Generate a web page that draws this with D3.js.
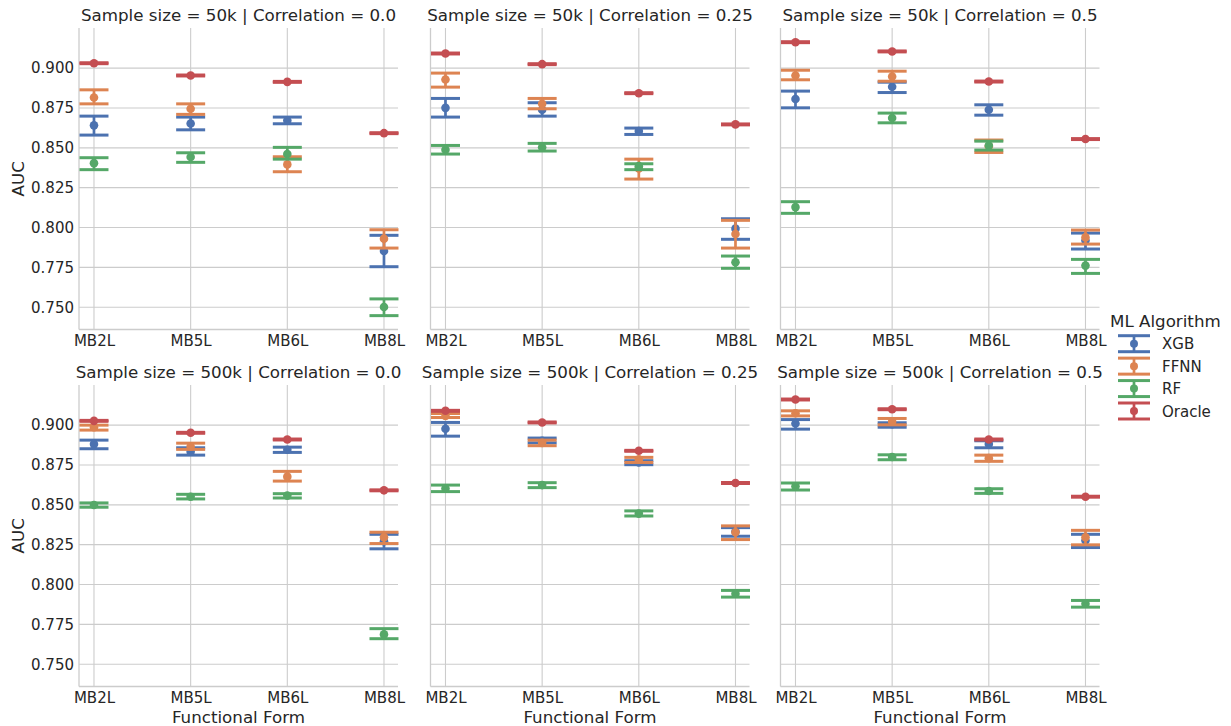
<!DOCTYPE html>
<html>
<head>
<meta charset="utf-8">
<script src="https://cdn.jsdelivr.net/npm/d3@7"></script>
<style>
  html, body { margin: 0; padding: 0; background: #ffffff; }
  svg { display: block; font-family: "DejaVu Sans", sans-serif; }
</style>
</head>
<body>
<svg id="chart" width="1231" height="726"></svg>
<script>
// ---------------- DATA ----------------
const forms = ["MB2L", "MB5L", "MB6L", "MB8L"];
const algorithms = ["XGB", "FFNN", "RF", "Oracle"];
const sampleSizes = ["50k", "500k"];
const correlations = ["0.0", "0.25", "0.5"];
const yTicks = [0.750, 0.775, 0.800, 0.825, 0.850, 0.875, 0.900];

// Panels in order: 50k/0.0, 50k/0.25, 50k/0.5, 500k/0.0, 500k/0.25, 500k/0.5
const xgbMean = [
  [0.8641, 0.8653, 0.8672, 0.7853], [0.8751, 0.8739, 0.8605, 0.7993], [0.8806, 0.8883, 0.8739, 0.7919],
  [0.8881, 0.8833, 0.8846, 0.8272], [0.8977, 0.8902, 0.8766, 0.8332], [0.9010, 0.9006, 0.8881, 0.8276]];
const xgbLo = [
  [0.8580, 0.8613, 0.8651, 0.7754], [0.8693, 0.8699, 0.8584, 0.7926], [0.8751, 0.8847, 0.8705, 0.7865],
  [0.8852, 0.8812, 0.8829, 0.8224], [0.8931, 0.8889, 0.8752, 0.8303], [0.8975, 0.8987, 0.8858, 0.8232]];
const xgbHi = [
  [0.8699, 0.8693, 0.8693, 0.7951], [0.8810, 0.8783, 0.8624, 0.8055], [0.8856, 0.8912, 0.8770, 0.7965],
  [0.8906, 0.8858, 0.8862, 0.8315], [0.9017, 0.8919, 0.8777, 0.8357], [0.9035, 0.9015, 0.8902, 0.8315]];

const ffnnMean = [
  [0.8816, 0.8745, 0.8396, 0.7930], [0.8929, 0.8776, 0.8370, 0.7959], [0.8954, 0.8948, 0.8510, 0.7938],
  [0.8987, 0.8866, 0.8677, 0.8297], [0.9058, 0.8889, 0.8785, 0.8328], [0.9075, 0.9023, 0.8793, 0.8297]];
const ffnnLo = [
  [0.8776, 0.8710, 0.8350, 0.7871], [0.8881, 0.8745, 0.8304, 0.7871], [0.8927, 0.8918, 0.8471, 0.7896],
  [0.8969, 0.8848, 0.8649, 0.8257], [0.9048, 0.8871, 0.8766, 0.8282], [0.9058, 0.9002, 0.8773, 0.8249]];
const ffnnHi = [
  [0.8864, 0.8776, 0.8444, 0.7986], [0.8969, 0.8810, 0.8429, 0.8045], [0.8987, 0.8981, 0.8549, 0.7984],
  [0.9000, 0.8887, 0.8710, 0.8328], [0.9073, 0.8906, 0.8798, 0.8368], [0.9090, 0.9042, 0.8812, 0.8340]];

const rfMean = [
  [0.8404, 0.8442, 0.8461, 0.7501], [0.8488, 0.8503, 0.8385, 0.7782], [0.8128, 0.8687, 0.8515, 0.7761],
  [0.8499, 0.8551, 0.8558, 0.7687], [0.8603, 0.8624, 0.8445, 0.7942], [0.8616, 0.8800, 0.8587, 0.7879]];
const rfLo = [
  [0.8363, 0.8409, 0.8429, 0.7447], [0.8461, 0.8480, 0.8363, 0.7744], [0.8089, 0.8657, 0.8486, 0.7712],
  [0.8485, 0.8537, 0.8543, 0.7660], [0.8583, 0.8608, 0.8430, 0.7921], [0.8593, 0.8783, 0.8572, 0.7858]];
const rfHi = [
  [0.8438, 0.8469, 0.8503, 0.7552], [0.8515, 0.8528, 0.8400, 0.7821], [0.8162, 0.8718, 0.8542, 0.7800],
  [0.8512, 0.8566, 0.8570, 0.7723], [0.8624, 0.8639, 0.8462, 0.7963], [0.8637, 0.8814, 0.8601, 0.7900]];

const oracleMean = [
  [0.9031, 0.8954, 0.8914, 0.8592], [0.9092, 0.9025, 0.8843, 0.8647], [0.9163, 0.9105, 0.8916, 0.8555],
  [0.9027, 0.8952, 0.8910, 0.8591], [0.9090, 0.9017, 0.8839, 0.8637], [0.9161, 0.9100, 0.8910, 0.8551]];
const oracleLo = [
  [0.9028, 0.8951, 0.8911, 0.8589], [0.9089, 0.9022, 0.8840, 0.8644], [0.9160, 0.9102, 0.8913, 0.8552],
  [0.9024, 0.8949, 0.8907, 0.8588], [0.9087, 0.9014, 0.8836, 0.8634], [0.9158, 0.9097, 0.8907, 0.8548]];
const oracleHi = [
  [0.9034, 0.8957, 0.8917, 0.8595], [0.9095, 0.9028, 0.8846, 0.8650], [0.9166, 0.9108, 0.8919, 0.8558],
  [0.9030, 0.8955, 0.8913, 0.8594], [0.9093, 0.9020, 0.8842, 0.8640], [0.9164, 0.9103, 0.8913, 0.8554]];

const colors = ["#4C72B0", "#DD8452", "#55A868", "#C44E52"];

// Build per-algorithm tables
const seriesTable = [
  {name: "XGB", mean: xgbMean, lo: xgbLo, hi: xgbHi},
  {name: "FFNN", mean: ffnnMean, lo: ffnnLo, hi: ffnnHi},
  {name: "RF", mean: rfMean, lo: rfLo, hi: rfHi},
  {name: "Oracle", mean: oracleMean, lo: oracleLo, hi: oracleHi}
];

// ---------------- LAYOUT ----------------
const svg = d3.select("#chart");
const textColor = "#262626";
const gridColor = "#cccccc";
const panelLefts = [79, 430.5, 780.5];
const panelW = 319;
const panelTops = [28, 385];
const panelH = 301.5;
const color = d3.scaleOrdinal().domain(algorithms).range(colors);

sampleSizes.forEach((ss, r) => {
  correlations.forEach((corr, c) => {
    const p = r * 3 + c;
    const left = panelLefts[c], top = panelTops[r];
    const x = d3.scaleLinear().domain([-0.155, 3.145]).range([left, left + panelW]);
    const y = d3.scaleLinear().domain([0.7360, 0.9252]).range([top + panelH, top]);
    const g = svg.append("g");

    // grid
    g.selectAll(".hgrid").data(yTicks).enter().append("line")
      .attr("x1", left).attr("x2", left + panelW)
      .attr("y1", d => y(d)).attr("y2", d => y(d))
      .attr("stroke", gridColor).attr("stroke-width", 1.1);
    g.selectAll(".vgrid").data(forms).enter().append("line")
      .attr("x1", (d, i) => x(i)).attr("x2", (d, i) => x(i))
      .attr("y1", top).attr("y2", top + panelH)
      .attr("stroke", gridColor).attr("stroke-width", 1.1);

    // axes
    const yAxis = d3.axisLeft(y).tickValues(yTicks).tickSize(0).tickPadding(5)
      .tickFormat(c === 0 ? d3.format(".3f") : () => "");
    const ya = g.append("g").attr("transform", `translate(${left},0)`).call(yAxis);
    const xAxis = d3.axisBottom(x).tickValues([0, 1, 2, 3]).tickSize(0).tickPadding(5.5)
      .tickFormat(i => forms[i]);
    const xa = g.append("g").attr("transform", `translate(0,${top + panelH})`).call(xAxis);
    [ya, xa].forEach(a => {
      a.select(".domain").attr("stroke", gridColor).attr("stroke-width", 1.3);
      a.selectAll("text").attr("fill", textColor).style("font-size", "15px")
        .style("font-family", "'DejaVu Sans', sans-serif");
    });
    xa.select(".domain").attr("d", `M${left},0H${left + panelW}`);
    ya.select(".domain").attr("d", `M0,${top}V${top + panelH}`);

    // title
    g.append("text").attr("x", left + panelW / 2).attr("y", top - 7)
      .attr("text-anchor", "middle").attr("fill", textColor)
      .style("font-size", "16.7px")
      .text(`Sample size = ${ss} | Correlation = ${corr}`);

    if (c === 0) {
      g.append("text")
        .attr("transform", `translate(${24},${top + panelH / 2}) rotate(-90)`)
        .attr("text-anchor", "middle").attr("fill", textColor)
        .style("font-size", "16.7px").text("AUC");
    }
    if (r === 1) {
      g.append("text").attr("x", left + panelW / 2).attr("y", top + panelH + 36)
        .attr("text-anchor", "middle").attr("fill", textColor)
        .style("font-size", "16.7px").text("Functional Form");
    }

    // series
    seriesTable.forEach(s => {
      const col = color(s.name);
      const sg = g.append("g");
      forms.forEach((f, i) => {
        const cx = x(i);
        const lo = s.lo[p][i], hi = s.hi[p][i], m = s.mean[p][i];
        sg.append("line").attr("x1", cx).attr("x2", cx)
          .attr("y1", y(lo)).attr("y2", y(hi))
          .attr("stroke", col).attr("stroke-width", 2.7);
        [lo, hi].forEach(v => {
          sg.append("line").attr("x1", cx - 14.5).attr("x2", cx + 14.5)
            .attr("y1", y(v)).attr("y2", y(v))
            .attr("stroke", col).attr("stroke-width", 3);
        });
        sg.append("circle").attr("cx", cx).attr("cy", y(m)).attr("r", 4.3)
          .attr("fill", col);
      });
    });
  });
});

// ---------------- LEGEND ----------------
const lg = svg.append("g");
lg.append("text").attr("x", 1110).attr("y", 327).attr("fill", textColor)
  .style("font-size", "16.7px").text("ML Algorithm");
const legendY = d3.scalePoint().domain(algorithms).range([343.7, 411]);
algorithms.forEach(a => {
  const cy = legendY(a), cx = 1134, col = color(a);
  lg.append("line").attr("x1", cx).attr("x2", cx).attr("y1", cy - 8).attr("y2", cy + 8)
    .attr("stroke", col).attr("stroke-width", 2.7);
  [-8, 8].forEach(dy => {
    lg.append("line").attr("x1", cx - 16).attr("x2", cx + 16)
      .attr("y1", cy + dy).attr("y2", cy + dy)
      .attr("stroke", col).attr("stroke-width", 3);
  });
  lg.append("circle").attr("cx", cx).attr("cy", cy).attr("r", 4).attr("fill", col);
  lg.append("text").attr("x", 1162).attr("y", cy + 5.5).attr("fill", textColor)
    .style("font-size", "15px").text(a);
});
</script>
</body>
</html>
